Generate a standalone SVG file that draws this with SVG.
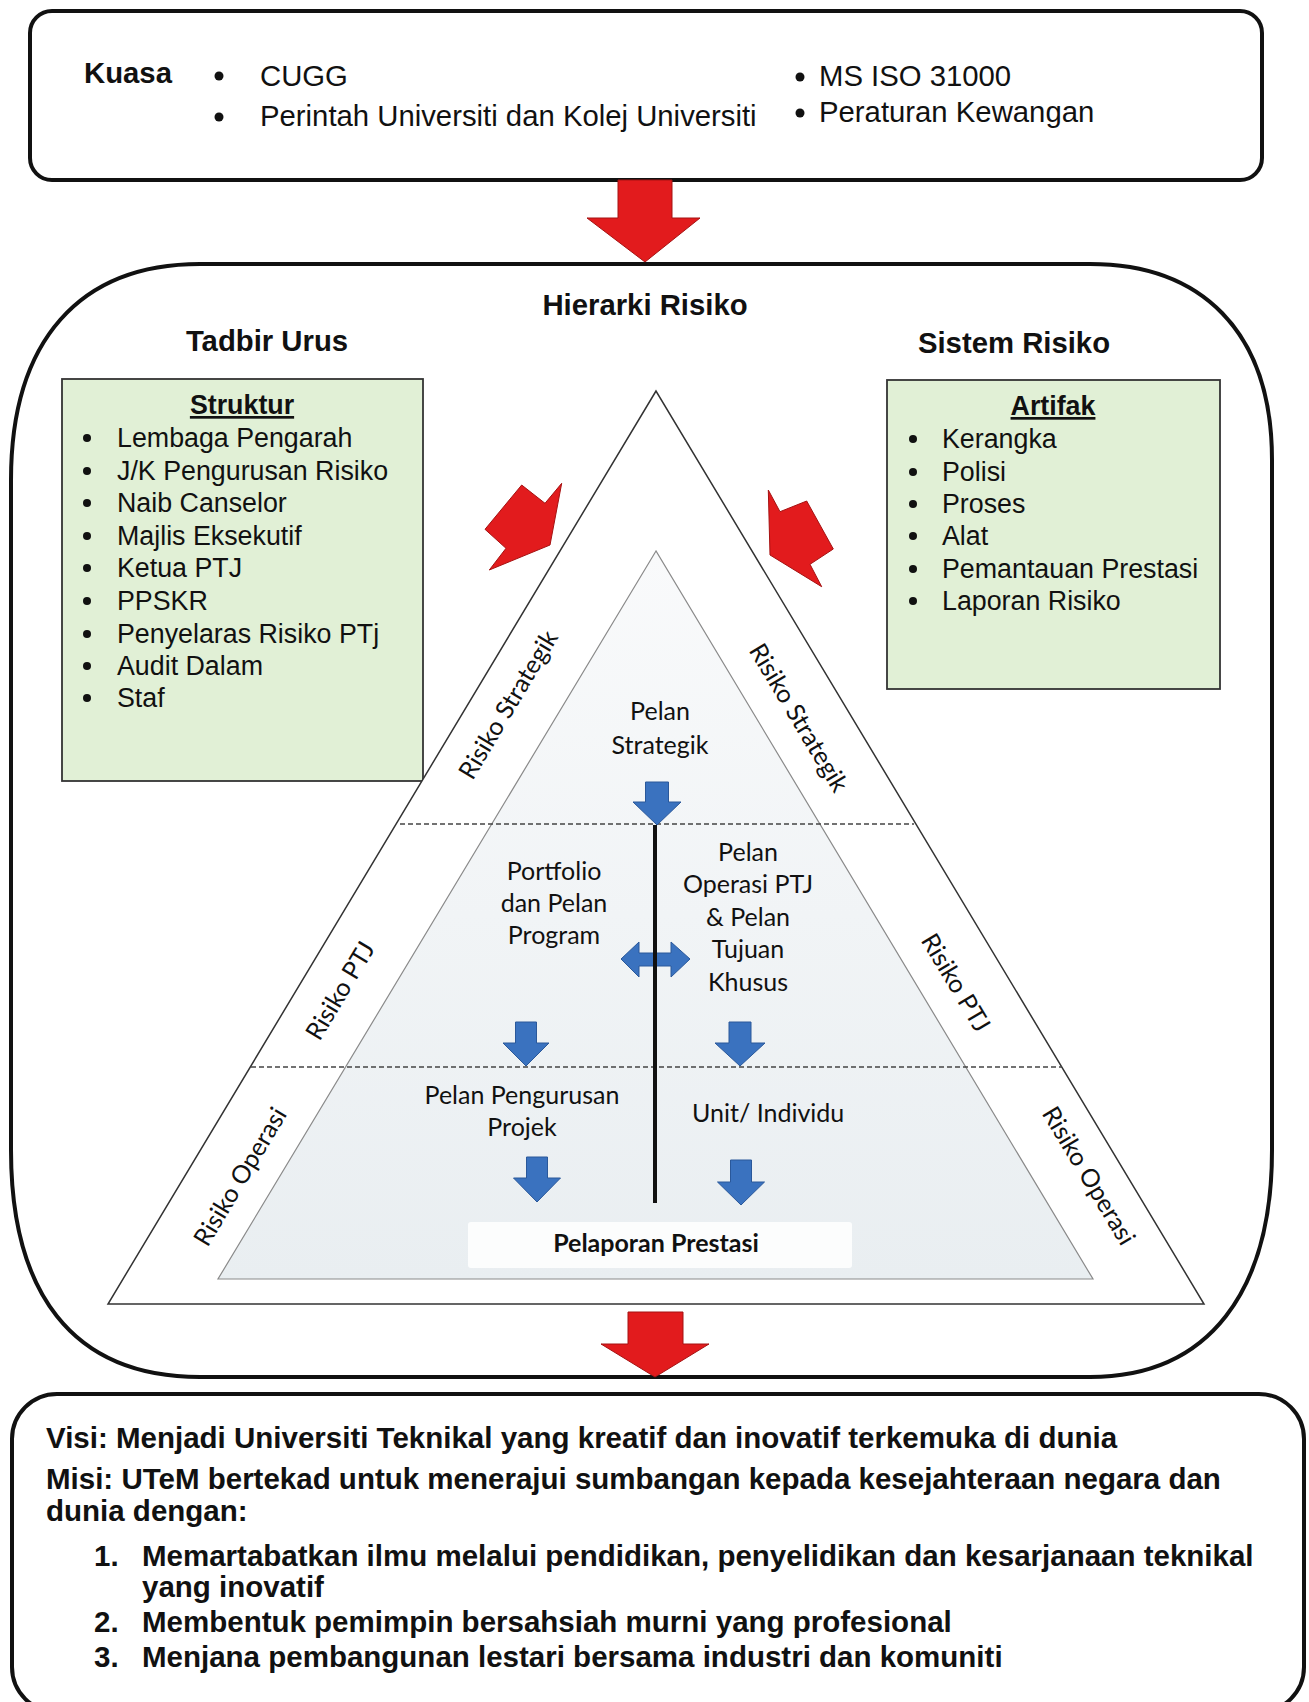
<svg xmlns="http://www.w3.org/2000/svg" width="1309" height="1702" viewBox="0 0 1309 1702">
<style>
.frame{fill:#fff;stroke:#111;stroke-width:4}
.sans{font-family:"Liberation Sans",Arial,sans-serif;fill:#111}
.b{font-weight:bold}
.t29{font-size:29.3px}
.t295{font-size:29.5px}
.t26{font-size:26.8px}
.tri{font-family:Lato,"Open Sans",sans-serif;font-size:25px;fill:#111}
.green{fill:#e1f0d6;stroke:#333;stroke-width:1.8}
.red{fill:#e21b1d;stroke:#a51212;stroke-width:1}
.blue{fill:#3a72bf;stroke:#2a589a;stroke-width:1}
.dash{stroke:#444;stroke-width:1.6;stroke-dasharray:5 3;fill:none}
.mid{text-anchor:middle}
</style>
<defs>
<linearGradient id="innerFill" x1="0" y1="0" x2="0" y2="1">
<stop offset="0" stop-color="#f9fafb"/>
<stop offset="1" stop-color="#e9eef1"/>
</linearGradient>
</defs>
<rect width="1309" height="1702" fill="#fff"/>

<g id="kuasa-box">
<rect class="frame" x="30" y="11" width="1232" height="169" rx="22"/>
<text class="sans b t29" x="84" y="83">Kuasa</text>
<circle cx="219" cy="76" r="4.5" fill="#111"/>
<circle cx="219" cy="117" r="4.5" fill="#111"/>
<text class="sans t29" x="260" y="86">CUGG</text>
<text class="sans t29" x="260" y="126">Perintah Universiti dan Kolej Universiti</text>
<circle cx="800" cy="77" r="4.5" fill="#111"/>
<circle cx="800" cy="113" r="4.5" fill="#111"/>
<text class="sans t29" x="819" y="86">MS ISO 31000</text>
<text class="sans t29" x="819" y="122">Peraturan Kewangan</text>
</g>

<g id="hierarki-box">
<path class="frame" d="M 200 264 L 1090 264 C 1200 264 1272 330 1272 460 L 1272 1150 C 1272 1290 1210 1377 1090 1377 L 200 1377 C 70 1377 11 1290 11 1150 L 11 480 C 11 340 80 264 200 264 Z"/>
<text class="sans b t29 mid" x="645" y="315">Hierarki Risiko</text>
<text class="sans b t29 mid" x="267" y="351">Tadbir Urus</text>
<text class="sans b t29 mid" x="1014" y="353">Sistem Risiko</text>
</g>

<g id="struktur">
<rect class="green" x="62" y="379" width="361" height="402"/>
<text class="sans b t26 mid" x="242" y="414" text-decoration="underline">Struktur</text>
<g fill="#111">
<circle cx="87" cy="438" r="4"/><circle cx="87" cy="471" r="4"/><circle cx="87" cy="503" r="4"/>
<circle cx="87" cy="536" r="4"/><circle cx="87" cy="568" r="4"/><circle cx="87" cy="601" r="4"/>
<circle cx="87" cy="634" r="4"/><circle cx="87" cy="666" r="4"/><circle cx="87" cy="698" r="4"/>
</g>
<text class="sans t26" x="117" y="447">Lembaga Pengarah</text>
<text class="sans t26" x="117" y="480">J/K Pengurusan Risiko</text>
<text class="sans t26" x="117" y="512">Naib Canselor</text>
<text class="sans t26" x="117" y="545">Majlis Eksekutif</text>
<text class="sans t26" x="117" y="577">Ketua PTJ</text>
<text class="sans t26" x="117" y="610">PPSKR</text>
<text class="sans t26" x="117" y="643">Penyelaras Risiko PTj</text>
<text class="sans t26" x="117" y="675">Audit Dalam</text>
<text class="sans t26" x="117" y="707">Staf</text>
</g>

<g id="artifak">
<rect class="green" x="887" y="380" width="333" height="309"/>
<text class="sans b t26 mid" x="1053" y="415" text-decoration="underline">Artifak</text>
<g fill="#111">
<circle cx="913" cy="439" r="4"/><circle cx="913" cy="472" r="4"/><circle cx="913" cy="504" r="4"/>
<circle cx="913" cy="536" r="4"/><circle cx="913" cy="569" r="4"/><circle cx="913" cy="601" r="4"/>
</g>
<text class="sans t26" x="942" y="448">Kerangka</text>
<text class="sans t26" x="942" y="481">Polisi</text>
<text class="sans t26" x="942" y="513">Proses</text>
<text class="sans t26" x="942" y="545">Alat</text>
<text class="sans t26" x="942" y="578">Pemantauan Prestasi</text>
<text class="sans t26" x="942" y="610">Laporan Risiko</text>
</g>

<g id="pyramid">
<polygon points="656,391 108,1304 1204,1304" fill="#fff" stroke="#333" stroke-width="1.5"/>
<polygon points="656,551 218,1279 1093,1279" fill="url(#innerFill)" stroke="#8a8a8a" stroke-width="1.2"/>
<line class="dash" x1="400" y1="824" x2="914" y2="824"/>
<line class="dash" x1="251" y1="1067" x2="1062" y2="1067"/>
<rect x="468" y="1222" width="384" height="46" rx="3" fill="#fcfdfd"/>
</g>

<g id="pyramid-labels">
<text class="tri mid" x="507" y="704" dominant-baseline="central" transform="rotate(-59.1 507 704)">Risiko Strategik</text>
<text class="tri mid" x="339" y="990" dominant-baseline="central" transform="rotate(-59.1 339 990)">Risiko PTJ</text>
<text class="tri mid" x="239" y="1176" dominant-baseline="central" transform="rotate(-59.1 239 1176)">Risiko Operasi</text>
<text class="tri mid" x="800" y="717" dominant-baseline="central" transform="rotate(59.1 800 717)">Risiko Strategik</text>
<text class="tri mid" x="957" y="982" dominant-baseline="central" transform="rotate(59.1 957 982)">Risiko PTJ</text>
<text class="tri mid" x="1090" y="1175" dominant-baseline="central" transform="rotate(59.1 1090 1175)">Risiko Operasi</text>
</g>

<g id="pelan-strategik">
<text class="tri mid" x="660" y="720">Pelan</text>
<text class="tri mid" x="660" y="754">Strategik</text>
</g>
<g id="portfolio">
<text class="tri mid" x="554" y="880">Portfolio</text>
<text class="tri mid" x="554" y="912">dan Pelan</text>
<text class="tri mid" x="554" y="944">Program</text>
</g>
<g id="pelan-operasi">
<text class="tri mid" x="748" y="861">Pelan</text>
<text class="tri mid" x="748" y="893">Operasi PTJ</text>
<text class="tri mid" x="748" y="926">&amp; Pelan</text>
<text class="tri mid" x="748" y="958">Tujuan</text>
<text class="tri mid" x="748" y="991">Khusus</text>
</g>
<g id="pelan-projek">
<text class="tri mid" x="522" y="1104">Pelan Pengurusan</text>
<text class="tri mid" x="522" y="1136">Projek</text>
</g>
<g id="unit-individu">
<text class="tri" x="692" y="1122">Unit/ Individu</text>
</g>
<g id="pelaporan">
<text class="tri mid" x="656" y="1252" font-weight="bold">Pelaporan Prestasi</text>
</g>

<g id="connectors">
<polygon class="red" points="618,180 672,180 672,218 700,218 645,262 587,218 618,218"/>
<polygon class="red" points="628,1312 683,1312 683,1344 709,1344 655,1377 601,1344 628,1344"/>
<polygon class="red" points="521.7,485 545,503.3 561.7,483.3 550,545 489.3,570 506,548.3 485,529.3"/>
<polygon class="red" points="768.3,490 780,511.7 806.7,501 833.3,549 810,564.3 821.7,586.7 770,555"/>
<path class="blue" d="M645.5 782 H668.5 V802 H681 L657 825 L633 802 H645.5 Z"/>
<path class="blue" d="M515.5 1022 H536.5 V1043 H549 L526 1066 L503 1043 H515.5 Z"/>
<path class="blue" d="M729 1022 H751 V1043 H765 L740 1066 L715 1043 H729 Z"/>
<path class="blue" d="M526.5 1157 H547.5 V1178 H560.5 L537 1202 L513.5 1178 H526.5 Z"/>
<path class="blue" d="M730.5 1160 H751.5 V1182 H764.5 L741 1205 L717.5 1182 H730.5 Z"/>
<path class="blue" d="M621 959 L639 942 L639 953 L671 953 L671 942 L690 959 L671 977 L671 966 L639 966 L639 977 Z"/>
<line x1="655" y1="825" x2="655" y2="1203" stroke="#111" stroke-width="4"/>
</g>

<g id="visi-misi-box">
<rect class="frame" x="12" y="1394" width="1292" height="318" rx="45"/>
<text class="sans b t295" x="46" y="1448">Visi: Menjadi Universiti Teknikal yang kreatif dan inovatif terkemuka di dunia</text>
<text class="sans b t295" x="46" y="1489">Misi: UTeM bertekad untuk menerajui sumbangan kepada kesejahteraan negara dan</text>
<text class="sans b t295" x="46" y="1521">dunia dengan:</text>
<text class="sans b t295" x="94" y="1566">1.</text>
<text class="sans b t295" x="142" y="1566">Memartabatkan ilmu melalui pendidikan, penyelidikan dan kesarjanaan teknikal</text>
<text class="sans b t295" x="142" y="1597">yang inovatif</text>
<text class="sans b t295" x="94" y="1632">2.</text>
<text class="sans b t295" x="142" y="1632">Membentuk pemimpin bersahsiah murni yang profesional</text>
<text class="sans b t295" x="94" y="1667">3.</text>
<text class="sans b t295" x="142" y="1667">Menjana pembangunan lestari bersama industri dan komuniti</text>
</g>
</svg>
